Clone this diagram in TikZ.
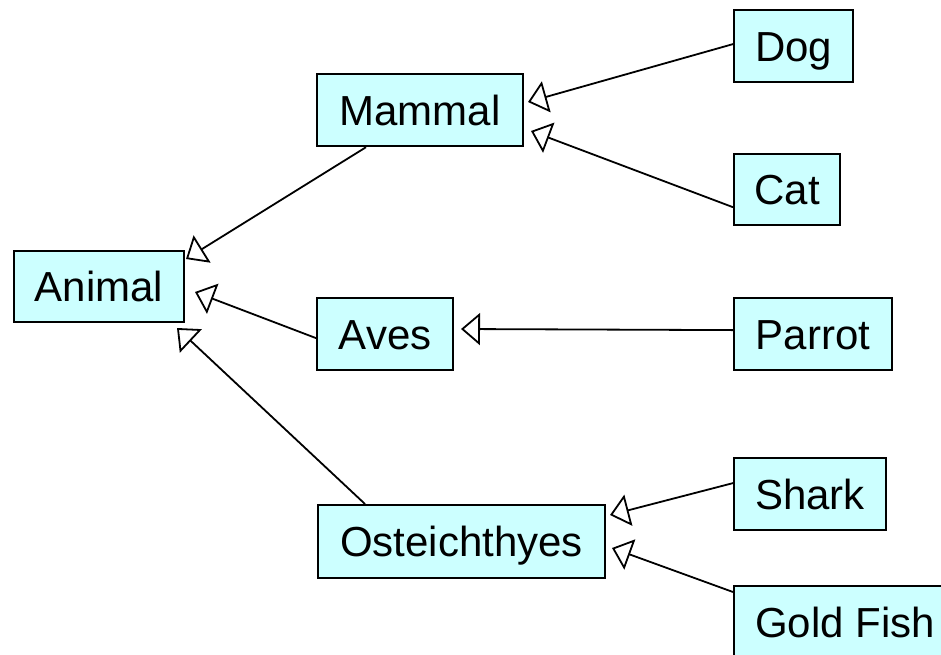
\documentclass[tikz,border=0pt]{standalone}
\usepackage{fontspec}
\setmainfont{Liberation Sans}
\usetikzlibrary{arrows.meta,calc}
\definecolor{boxfill}{HTML}{CCFFFF}
\tikzset{
  cls/.style={draw=black, line width=2.2pt, fill=boxfill, anchor=north west,
    inner sep=0pt, minimum height=72pt, text height=30pt, text depth=0pt,
    font=\fontsize{42}{50}\selectfont},
  inh/.style={line width=1.8pt, -{Triangle[open, length=19pt, width=32pt, line width=1.8pt]}}
}
\begin{document}
\begin{tikzpicture}[x=1pt,y=-1pt]
\useasboundingbox (0,0) rectangle (941,654);
\clip (0,0) rectangle (941,654);
% classes
\node[cls, minimum width=170pt, minimum height=71pt] (animal) at (13,250) {Animal};
\node[cls, minimum width=206pt] (mammal) at (316,73) {Mammal};
\node[cls, minimum width=136pt] (aves) at (316,297) {Aves};
\node[cls, minimum width=287pt, minimum height=73pt] (ost) at (317,504) {Osteichthyes};
\node[cls, minimum width=119pt] (dog) at (733,9) {Dog};
\node[cls, minimum width=106pt, minimum height=71pt] (cat) at (733,153) {Cat};
\node[cls, minimum width=158pt] (parrot) at (733,297) {Parrot};
\node[cls, minimum width=152pt] (shark) at (733,457) {Shark};
\node[cls, minimum width=222pt] (gold) at (733,585) {Gold Fish};
% arrow tips
\coordinate (tA1) at (186,259);
\coordinate (tA2) at (195,292);
\coordinate (tA3) at (177,328);
\coordinate (tM1) at (528,102);
\coordinate (tM2) at (531,131);
\coordinate (tV1) at (461,329);
\coordinate (tO1) at (610,515);
\coordinate (tO2) at (612,548);
% connectors
\draw[inh] ($(mammal.south west)+(50,0)$) -- (tA1);
\draw[inh] ($(aves.west)+(0,4)$) -- (tA2);
\draw[inh] ($(ost.north west)+(48,0)$) -- (tA3);
\draw[inh] ($(dog.west)+(0,-2)$) -- (tM1);
\draw[inh] ($(cat.south west)+(0,-19)$) -- (tM2);
\draw[inh] ($(parrot.west)+(0,-4)$) -- (tV1);
\draw[inh] ($(shark.west)+(0,-11)$) -- (tO1);
\draw[inh] ($(gold.north west)+(0,7)$) -- (tO2);
\end{tikzpicture}
\end{document}
